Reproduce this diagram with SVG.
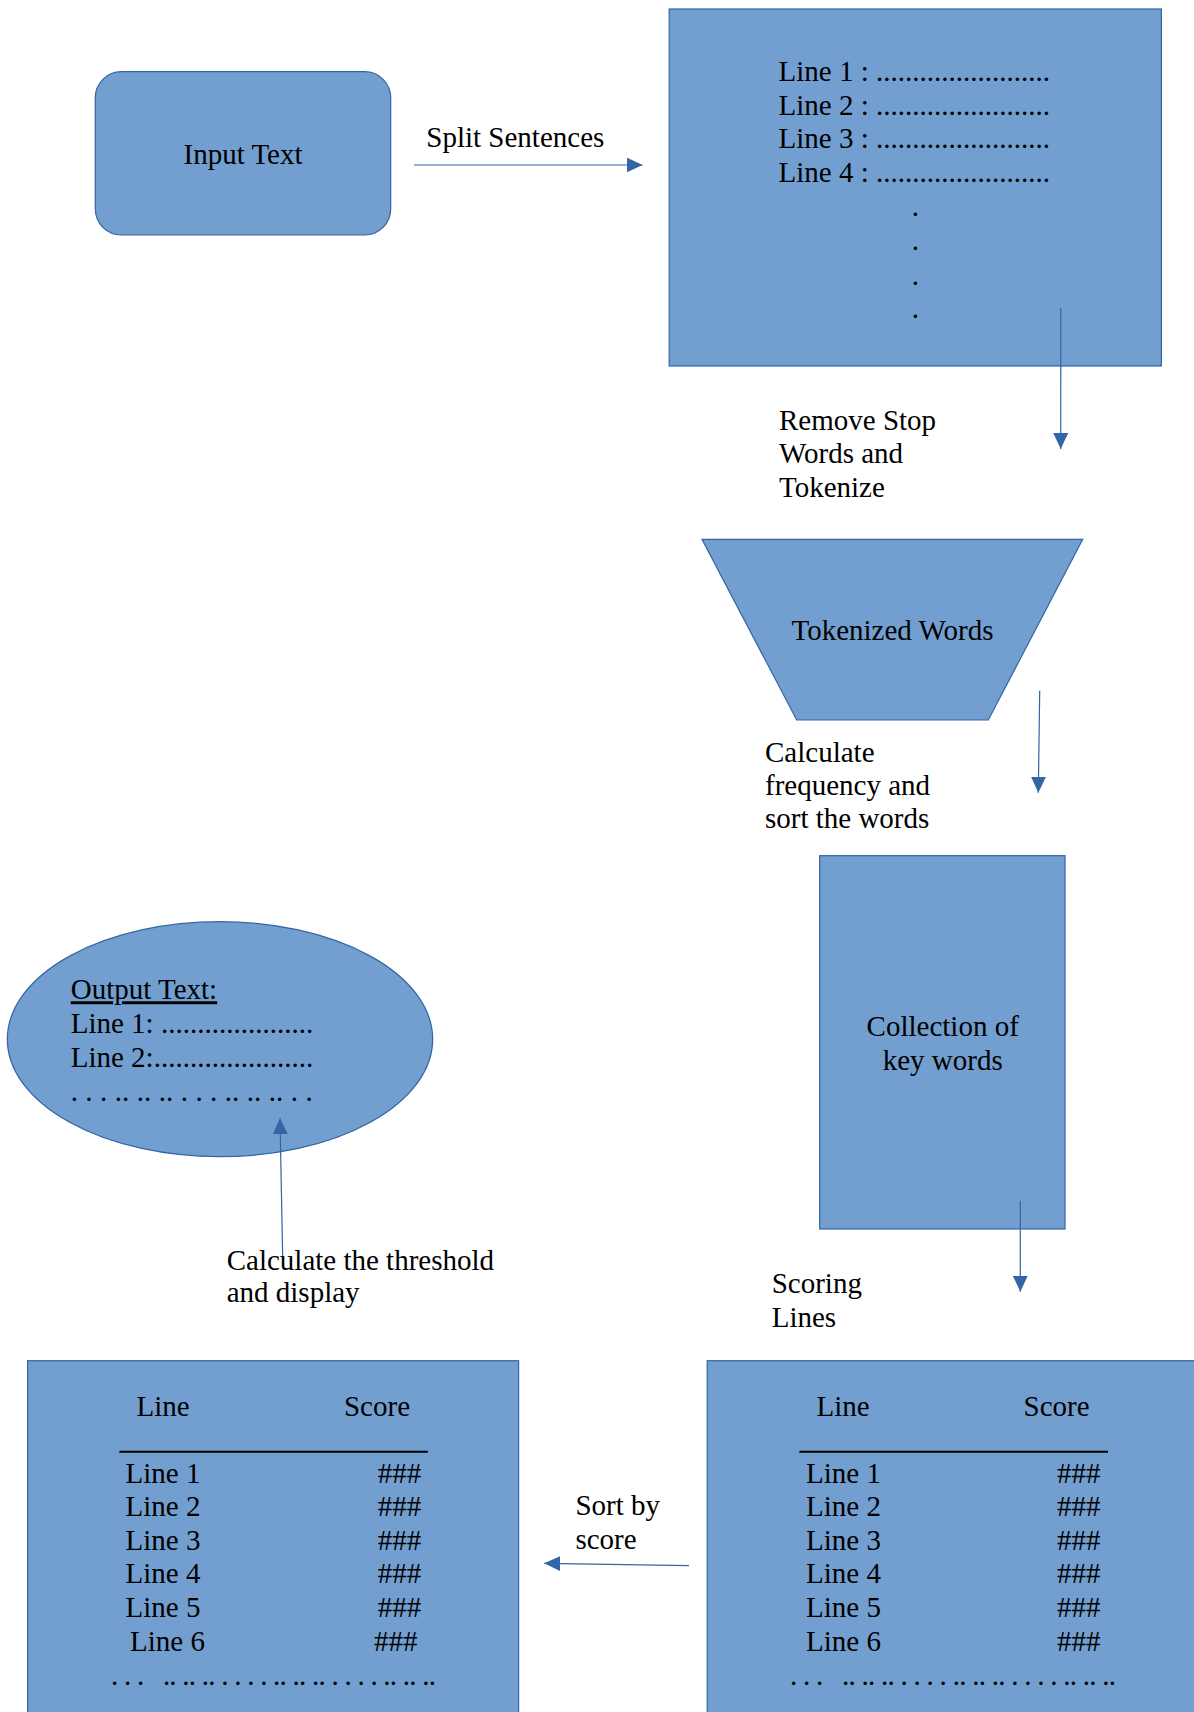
<svg xmlns="http://www.w3.org/2000/svg" width="1194" height="1712" viewBox="0 0 1194 1712">
<style>
.shape{fill:#729fcf;stroke:#3465a4;stroke-width:1.2}
text{font-family:"Liberation Serif","Times New Roman",serif;font-size:29px;fill:#000}
.mid{text-anchor:middle}
.pre{white-space:pre}
.conn{stroke:#3465a4;stroke-width:1.2;fill:none;marker-end:url(#arrow)}
</style>
<defs>
<marker id="arrow" viewBox="0 0 16 15" refX="16" refY="7.5" markerWidth="16" markerHeight="15" markerUnits="userSpaceOnUse" orient="auto">
<path d="M0,0 L16,7.5 L0,15 z" fill="#3465a4"/>
</marker>
</defs>
<rect width="1194" height="1712" fill="#fff"/>

<g id="input-text">
<rect class="shape" x="95.3" y="71.7" width="295.4" height="163.3" rx="26" ry="26"/>
<text class="mid" x="243" y="164">Input Text</text>
</g>

<g id="sentences">
<rect class="shape" x="669.2" y="9" width="492.2" height="357"/>
<text x="778.5" y="81">Line 1 : ........................</text>
<text x="778.5" y="114.5">Line 2 : ........................</text>
<text x="778.5" y="148.3">Line 3 : ........................</text>
<text x="778.5" y="182">Line 4 : ........................</text>
<text class="mid" x="915.4" y="216">.</text>
<text class="mid" x="915.4" y="250">.</text>
<text class="mid" x="915.4" y="285">.</text>
<text class="mid" x="915.4" y="318">.</text>
</g>

<g id="tokenized-words">
<polygon class="shape" points="702,539.3 1082.7,539.3 988.3,720 796.7,720"/>
<text class="mid" x="892.5" y="640">Tokenized Words</text>
</g>

<g id="key-words">
<rect class="shape" x="819.7" y="855.7" width="245.3" height="373.3"/>
<text class="mid" x="942.7" y="1036">Collection of</text>
<text class="mid" x="942.7" y="1070">key words</text>
</g>

<g id="output-text">
<ellipse class="shape" cx="220" cy="1039.2" rx="212.7" ry="117.5"/>
<text x="70.7" y="999.3" text-decoration="underline">Output Text:</text>
<text x="70.7" y="1032.7">Line 1: .....................</text>
<text x="70.7" y="1066.7">Line 2:......................</text>
<text x="70.7" y="1101" textLength="242" lengthAdjust="spacing">. . . .. .. .. . . . .. .. .. . .</text>
</g>

<g id="sorted-table">
<rect class="shape" x="27.6" y="1360.7" width="491" height="360"/>
<text class="mid" x="163" y="1416">Line</text>
<text class="mid" x="377" y="1416">Score</text>
<line x1="119.4" y1="1451.7" x2="427.8" y2="1451.7" stroke="#000" stroke-width="2"/>
<text x="125.5" y="1482.7">Line 1</text><text x="377.7" y="1482.7">###</text>
<text x="125.5" y="1516">Line 2</text><text x="377.7" y="1516">###</text>
<text x="125.5" y="1550">Line 3</text><text x="377.7" y="1550">###</text>
<text x="125.5" y="1583.3">Line 4</text><text x="377.7" y="1583.3">###</text>
<text x="125.5" y="1617.3">Line 5</text><text x="377.7" y="1617.3">###</text>
<text x="130" y="1650.7">Line 6</text><text x="374" y="1650.7">###</text>
<text class="pre" x="111" y="1685" textLength="325" lengthAdjust="spacing">. . .   .. .. .. . . . . .. .. .. . . . . .. .. ..</text>
</g>

<g id="scored-table">
<rect class="shape" x="707.2" y="1360.7" width="500" height="360"/>
<text class="mid" x="843" y="1416">Line</text>
<text class="mid" x="1056.6" y="1416">Score</text>
<line x1="799.4" y1="1451.7" x2="1108" y2="1451.7" stroke="#000" stroke-width="2"/>
<text x="806" y="1482.7">Line 1</text><text x="1057" y="1482.7">###</text>
<text x="806" y="1516">Line 2</text><text x="1057" y="1516">###</text>
<text x="806" y="1550">Line 3</text><text x="1057" y="1550">###</text>
<text x="806" y="1583.3">Line 4</text><text x="1057" y="1583.3">###</text>
<text x="806" y="1617.3">Line 5</text><text x="1057" y="1617.3">###</text>
<text x="806" y="1650.7">Line 6</text><text x="1057" y="1650.7">###</text>
<text class="pre" x="790" y="1685" textLength="326" lengthAdjust="spacing">. . .   .. .. .. . . . . .. .. .. . . . . .. .. ..</text>
</g>

<g id="connectors">
<path class="conn" d="M414,165 L642.6,165"/>
<path class="conn" d="M1060.8,308 L1060.7,449"/>
<path class="conn" d="M1039.7,690.7 L1038.3,792.7"/>
<path class="conn" d="M1020.3,1200.7 L1020.3,1291.7"/>
<path class="conn" d="M688.9,1565.7 L544.2,1563.3"/>
<path class="conn" d="M282.7,1258.3 L280,1118.3"/>
</g>

<g id="labels">
<text x="426.3" y="147.3">Split Sentences</text>
<text x="779" y="430">Remove Stop</text>
<text x="779" y="462.7">Words and</text>
<text x="779" y="496.7">Tokenize</text>
<text x="765" y="761.7">Calculate</text>
<text x="765" y="795">frequency and</text>
<text x="765" y="828.3">sort the words</text>
<text x="771.7" y="1293.3">Scoring</text>
<text x="771.7" y="1327">Lines</text>
<text x="575.4" y="1515">Sort by</text>
<text x="575.4" y="1549.3">score</text>
<text x="226.7" y="1270">Calculate the threshold</text>
<text x="226.7" y="1301.7">and display</text>
</g>
</svg>
